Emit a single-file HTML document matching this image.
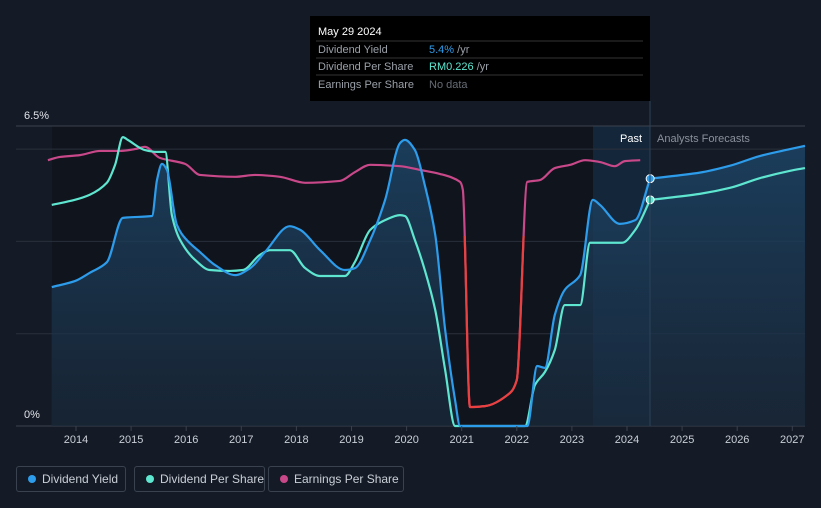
<!DOCTYPE html>
<html><head><meta charset="utf-8"><style>
body{margin:0;background:#151b26;width:821px;height:508px;overflow:hidden;font-family:"Liberation Sans",sans-serif}
.leg{position:absolute;top:466px;height:26px;border:1px solid #3a4250;border-radius:3px;color:#c9ced6;font-size:12px;line-height:24px;box-sizing:border-box;padding-left:25px;white-space:nowrap;overflow:hidden}
.leg i{position:absolute;left:11px;top:8px;width:8px;height:8px;border-radius:50%}
</style></head><body>
<svg id="c" width="821" height="508" style="position:absolute;left:0;top:0">
<defs>
<linearGradient id="fg" x1="0" y1="0" x2="0" y2="1"><stop offset="0" stop-color="#1c4466" stop-opacity="0.85"/><stop offset="1" stop-color="#1a2a3c" stop-opacity="0.7"/></linearGradient>
<clipPath id="redclip"><rect x="0" y="236" width="821" height="300"/></clipPath>
</defs>
<rect x="52" y="126" width="541" height="300" fill="#10141c"/>
<rect x="593" y="126" width="57" height="300" fill="#14263a"/>
<g id="grid"></g>
<g id="series"></g>
<g id="xt"></g>
<text x="24" y="119" fill="#e0e3e8" font-size="11">6.5%</text>
<text x="24" y="418" fill="#e0e3e8" font-size="11">0%</text>
<text x="642" y="142" fill="#ffffff" font-size="11" text-anchor="end">Past</text>
<text x="657" y="142" fill="#8a919c" font-size="11">Analysts Forecasts</text>
<line x1="650" y1="101" x2="650" y2="426" stroke="#2b4258"/>
<g>
<rect x="310" y="16" width="340" height="85" fill="#000"/>
<text x="318" y="35" fill="#fff" font-size="11">May 29 2024</text>
<line x1="316" y1="41" x2="643" y2="41" stroke="#333"/>
<text x="318" y="53" fill="#9aa0a8" font-size="11">Dividend Yield</text><text x="429" y="53" fill="#2d9ceb" font-size="11">5.4%<tspan fill="#9aa0a8"> /yr</tspan></text>
<line x1="316" y1="58" x2="643" y2="58" stroke="#333"/>
<text x="318" y="70" fill="#9aa0a8" font-size="11">Dividend Per Share</text><text x="429" y="70" fill="#5ee6d0" font-size="11">RM0.226<tspan fill="#9aa0a8"> /yr</tspan></text>
<line x1="316" y1="75" x2="643" y2="75" stroke="#333"/>
<text x="318" y="88" fill="#9aa0a8" font-size="11">Earnings Per Share</text><text x="429" y="88" fill="#666c75" font-size="11">No data</text>
</g>
</svg>
<div class="leg" style="left:16px;width:110px"><i style="background:#2d9ceb"></i>Dividend Yield</div>
<div class="leg" style="left:134px;width:131px"><i style="background:#5ee6d0"></i>Dividend Per Share</div>
<div class="leg" style="left:268px;width:136px"><i style="background:#c8488a"></i>Earnings Per Share</div>
<script>
const yieldYears=[2013.56,2013.98,2014.25,2014.56,2014.85,2015.38,2015.47,2015.56,2015.65,2015.83,2016.01,2016.25,2016.52,2016.89,2017.16,2017.43,2017.88,2018.07,2018.43,2018.88,2019.06,2019.34,2019.61,2019.88,2019.97,2020.15,2020.33,2020.52,2020.70,2020.88,2020.97,2021.5,2022.19,2022.37,2022.51,2022.69,2022.87,2023.15,2023.38,2023.51,2023.87,2024.15,2024.42];
const yieldVals=[3.01,3.14,3.32,3.55,4.51,4.55,5.33,5.68,5.55,4.36,4.03,3.77,3.49,3.27,3.42,3.77,4.33,4.25,3.81,3.38,3.42,4.03,4.90,6.13,6.20,5.98,5.22,4.14,2.08,0.56,0,0,0,1.30,1.26,2.41,2.95,3.27,4.90,4.79,4.38,4.46,5.36];
const yieldFcYears=[2024.42,2025.32,2025.87,2026.41,2026.96,2027.23];
const yieldFcVals=[5.36,5.49,5.64,5.85,6.00,6.07];
const dpsYears=[2013.56,2013.98,2014.25,2014.56,2014.71,2014.85,2014.94,2015.25,2015.47,2015.62,2015.74,2015.89,2016.16,2016.43,2016.79,2017.03,2017.34,2017.52,2017.88,2018.16,2018.43,2018.88,2019.06,2019.34,2019.61,2019.88,2019.97,2020.15,2020.33,2020.52,2020.70,2020.88,2021.5,2022.15,2022.33,2022.51,2022.69,2022.87,2023.15,2023.33,2023.91,2024.15,2024.42];
const dpsVals=[4.79,4.90,5.01,5.27,5.66,6.26,6.20,5.98,5.94,5.94,4.57,4.03,3.60,3.38,3.36,3.38,3.71,3.81,3.81,3.42,3.25,3.25,3.55,4.25,4.46,4.57,4.55,4.03,3.38,2.51,1.21,0,0,0,0.89,1.17,1.65,2.62,2.62,3.97,3.97,4.25,4.90];
const dpsFcYears=[2024.42,2025.32,2025.87,2026.41,2026.96,2027.23];
const dpsFcVals=[4.90,5.03,5.16,5.37,5.53,5.59];
const epsYears=[2013.49,2013.71,2014.07,2014.44,2014.80,2015.07,2015.25,2015.52,2015.98,2016.25,2016.89,2017.25,2017.70,2018.16,2018.79,2019.06,2019.34,2019.88,2020.24,2020.61,2020.97,2021.02,2021.15,2021.42,2021.88,2022.00,2022.19,2022.42,2022.69,2022.97,2023.24,2023.51,2023.78,2023.96,2024.24];
const epsVals=[5.76,5.83,5.87,5.96,5.96,6.00,6.05,5.81,5.68,5.44,5.40,5.44,5.40,5.27,5.31,5.50,5.66,5.63,5.55,5.46,5.29,5.12,0.41,0.43,0.72,1.00,5.29,5.33,5.59,5.66,5.76,5.72,5.63,5.74,5.76];
const xTicks=[2014,2015,2016,2017,2018,2019,2020,2021,2022,2023,2024,2025,2026,2027];
const gridVals=[2,4,6,6.5];
const X=y=>76+(y-2014)*55.1, Y=v=>426-v*46.15;
const NS='http://www.w3.org/2000/svg';
function mk(t,a,p){const e=document.createElementNS(NS,t);for(const k in a)e.setAttribute(k,a[k]);p.appendChild(e);return e;}
function path(xs,vs){const p=xs.map((x,i)=>[X(x),Y(vs[i])]);const n=p.length;
const d=[],m=new Array(n);for(let i=0;i<n-1;i++)d.push((p[i+1][1]-p[i][1])/(p[i+1][0]-p[i][0]));
m[0]=d[0];m[n-1]=d[n-2];for(let i=1;i<n-1;i++){m[i]=(d[i-1]*d[i]<=0)?0:2/(1/d[i-1]+1/d[i]);}
let s='M'+p[0][0]+','+p[0][1];
for(let i=0;i<n-1;i++){const h=(p[i+1][0]-p[i][0])/3;
s+=`C${p[i][0]+h},${p[i][1]+m[i]*h} ${p[i+1][0]-h},${p[i+1][1]-m[i+1]*h} ${p[i+1][0]},${p[i+1][1]}`;}return s;}
const grid=document.getElementById('grid'),ser=document.getElementById('series'),xt=document.getElementById('xt');
gridVals.forEach(v=>{const l=mk('line',{x1:16,x2:805,y1:Y(v),y2:Y(v),stroke:v==6.5?'#3a414d':'#2a303b'},grid);

});
const base=mk('line',{x1:16,x2:805,y1:426,y2:426,stroke:'#3a414d'},grid);


xTicks.forEach(t=>{mk('line',{x1:X(t),x2:X(t),y1:426,y2:431,stroke:'#3a414d'},xt);
const tx=mk('text',{x:X(t),y:443,fill:'#c9ced6','font-size':11,'text-anchor':'middle'},xt);tx.textContent=t;

});
const ay=yieldYears.concat(yieldFcYears.slice(1)),av=yieldVals.concat(yieldFcVals.slice(1));
const area=mk('path',{d:path(ay,av)+`L${X(ay[ay.length-1])},426L${X(ay[0])},426Z`,fill:'url(#fg)'},ser);


function line(xs,vs,col,name,extra){const e=mk('path',Object.assign({d:path(xs,vs),fill:'none',stroke:col,'stroke-width':2.2},extra||{}),ser);

}
line(epsYears,epsVals,'#c8488a','eps-line');
line(epsYears,epsVals,'#e8413f','eps-decline-line',{'clip-path':'url(#redclip)'});
line(dpsYears,dpsVals,'#5ee6d0','dps-line');
line(dpsFcYears,dpsFcVals,'#5ee6d0','dps-forecast-line');
line(yieldYears,yieldVals,'#2d9ceb','yield-line');
line(yieldFcYears,yieldFcVals,'#2d9ceb','yield-forecast-line');
const d1=mk('circle',{cx:X(2024.42),cy:Y(5.36),r:4,fill:'#2d9ceb',stroke:'#fff','stroke-width':1},ser);


const d2=mk('circle',{cx:X(2024.42),cy:Y(4.90),r:4,fill:'#5ee6d0',stroke:'#fff','stroke-width':1},ser);


</script>
</body></html>
